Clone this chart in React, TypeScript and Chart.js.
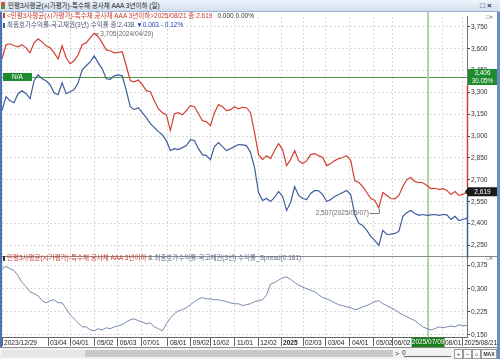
import React, { useEffect, useRef } from 'react';
import { Chart, registerables } from 'chart.js';
Chart.register(...registerables);

// ---- data (sampled every few trading days, 2023/12/29 .. 2025/08/21) ----
const RED = [
  3.531, 3.627, 3.634, 3.620, 3.613, 3.627, 3.606, 3.572, 3.640, 3.668,
  3.647, 3.620, 3.606, 3.572, 3.531, 3.620, 3.538, 3.497, 3.517, 3.558,
  3.627, 3.640, 3.675, 3.705, 3.682, 3.640, 3.592, 3.586, 3.572, 3.575,
  3.579, 3.483, 3.380, 3.373, 3.385, 3.353, 3.312, 3.305, 3.243, 3.188,
  3.161, 3.147, 3.038, 3.154, 3.161, 3.147, 3.175, 3.209, 3.202, 3.154,
  3.106, 3.099, 3.072, 3.161, 3.216, 3.202, 3.175, 3.182, 3.202, 3.188,
  3.198, 3.195, 3.161, 3.024, 2.873, 2.839, 2.866, 2.846, 2.901, 2.949,
  2.908, 2.798, 2.839, 2.901, 2.832, 2.812, 2.830, 2.873, 2.880, 2.866,
  2.853, 2.798, 2.812, 2.832, 2.846, 2.853, 2.866, 2.832, 2.695, 2.682,
  2.654, 2.613, 2.572, 2.558, 2.507, 2.613, 2.593, 2.572, 2.570, 2.593,
  2.654, 2.702, 2.716, 2.688, 2.682, 2.680, 2.661, 2.640, 2.642, 2.634,
  2.640, 2.627, 2.599, 2.620, 2.593, 2.600, 2.619,
];
const BLUE = [
  3.175, 3.271, 3.243, 3.229, 3.291, 3.312, 3.291, 3.257, 3.380, 3.421,
  3.394, 3.380, 3.353, 3.298, 3.284, 3.366, 3.291, 3.305, 3.319, 3.366,
  3.455, 3.483, 3.510, 3.551, 3.503, 3.462, 3.394, 3.390, 3.414, 3.421,
  3.414, 3.312, 3.202, 3.182, 3.195, 3.161, 3.127, 3.086, 3.058, 3.031,
  3.010, 2.969, 2.901, 2.914, 2.908, 2.921, 2.935, 2.976, 2.970, 2.914,
  2.873, 2.866, 2.839, 2.928, 2.955, 2.928, 2.901, 2.914, 2.928, 2.942,
  2.940, 2.935, 2.887, 2.784, 2.613, 2.558, 2.572, 2.551, 2.579, 2.620,
  2.586, 2.490, 2.545, 2.654, 2.593, 2.572, 2.565, 2.606, 2.627, 2.625,
  2.599, 2.551, 2.565, 2.586, 2.599, 2.613, 2.627, 2.599, 2.462, 2.401,
  2.387, 2.353, 2.312, 2.284, 2.250, 2.353, 2.325, 2.328, 2.332, 2.346,
  2.449, 2.476, 2.490, 2.469, 2.456, 2.462, 2.456, 2.460, 2.462, 2.456,
  2.462, 2.460, 2.428, 2.449, 2.421, 2.428, 2.438,
];
const SPREAD = [
  0.365, 0.372, 0.365, 0.359, 0.342, 0.320, 0.307, 0.290, 0.284, 0.277,
  0.261, 0.254, 0.261, 0.264, 0.254, 0.254, 0.235, 0.215, 0.202, 0.189,
  0.176, 0.176, 0.166, 0.163, 0.170, 0.166, 0.173, 0.170, 0.176, 0.179,
  0.183, 0.192, 0.199, 0.202, 0.196, 0.192, 0.186, 0.189, 0.176, 0.170,
  0.163, 0.186, 0.205, 0.218, 0.228, 0.232, 0.238, 0.248, 0.258, 0.267,
  0.271, 0.267, 0.267, 0.264, 0.264, 0.261, 0.258, 0.254, 0.251, 0.251,
  0.245, 0.248, 0.251, 0.258, 0.261, 0.264, 0.280, 0.315, 0.320, 0.328,
  0.335, 0.338, 0.330, 0.320, 0.312, 0.305, 0.300, 0.295, 0.290, 0.280,
  0.271, 0.267, 0.261, 0.254, 0.248, 0.245, 0.241, 0.238, 0.232, 0.235,
  0.241, 0.245, 0.251, 0.258, 0.261, 0.251, 0.245, 0.238, 0.232, 0.222,
  0.215, 0.209, 0.202, 0.196, 0.186, 0.176, 0.170, 0.166, 0.170, 0.176,
  0.173, 0.176, 0.179, 0.176, 0.183, 0.179, 0.181,
];
const MAIN_TICKS = [2.25, 2.4, 2.55, 2.7, 2.85, 3.0, 3.15, 3.3, 3.45, 3.6, 3.75];
const SPREAD_TICKS = [0.15, 0.225, 0.3, 0.375];
const X_TICK_POS = [0, 11.5, 17.0, 23.2, 28.9, 34.7, 41.4, 47.1, 52.1, 58.1, 63.9, 69.6, 75.1, 80.8, 86.8, 92.8, 97.3, 110.0, 114.8];
const X_TICK_LABELS = ['2023/12/29', '03/04', '04/01', '05/02', '06/03', '07/01', '08/01', '09/02', '10/02', '11/01', '12/02', '2025', '02/03', '03/04', '04/01', '05/02', '06/02', '08/01', '2025/08/21'];
const MARK_POS = 106.3;
const MARK_LABEL = '2025/07/09';
const REF_LEVEL = 3.406;
const REF_PCT = '30.05%';
const PEAK_DATE = '2024/04/29';
const LOW_DATE = '2025/05/07';
const MAIN_RANGE = [2.179, 3.818];
const SPREAD_RANGE = [0.143, 0.407];

const NARROW = '"Liberation Sans", "Noto Sans CJK KR", sans-serif';
const fmt = (v: number) => v.toFixed(3).replace('.', ',');

const overlay = {
  id: 'overlay',
  beforeDatasetsDraw(chart: any) {
    const { ctx, chartArea: ca, scales } = chart;
    const x = scales.x, y = scales.y;
    const gy = Math.round(y.getPixelForValue(REF_LEVEL)) + 0.5;
    ctx.save();
    ctx.strokeStyle = '#4e9b43';
    ctx.lineWidth = 1;
    ctx.beginPath(); ctx.moveTo(ca.left, gy); ctx.lineTo(ca.right, gy); ctx.stroke();
    const vx = x.getPixelForValue(MARK_POS);
    ctx.strokeStyle = '#b2d0aa';
    ctx.lineWidth = 2;
    ctx.beginPath(); ctx.moveTo(vx, 0); ctx.lineTo(vx, x.bottom); ctx.stroke();
    ctx.restore();
  },
  afterDraw(chart: any) {
    const { ctx, chartArea: ca, scales } = chart;
    const x = scales.x, y = scales.y, y2 = scales.y2;
    ctx.save();
    const sy = Math.round(y2.top) + 0.5;
    ctx.strokeStyle = '#8c8c8c'; ctx.lineWidth = 1;
    ctx.beginPath(); ctx.moveTo(0, sy); ctx.lineTo(chart.width, sy); ctx.stroke();

    const gy = y.getPixelForValue(REF_LEVEL);
    const last = RED[RED.length - 1];
    const cy = y.getPixelForValue(last);
    const ax = Math.round(y.left) + 0.5;
    ctx.lineWidth = 1.5;
    ctx.strokeStyle = '#d2402f';
    ctx.beginPath(); ctx.moveTo(ax, gy + 8); ctx.lineTo(ax, cy - 4.5); ctx.stroke();
    ctx.strokeStyle = '#3d5d9c';
    ctx.beginPath(); ctx.moveTo(ax, cy + 4.5); ctx.lineTo(ax, y.bottom + 2); ctx.stroke();

    let pi = 0, li = 0;
    RED.forEach((v, i) => { if (v > RED[pi]) pi = i; if (v < RED[li]) li = i; });
    const px = x.getPixelForValue(pi), py = y.getPixelForValue(RED[pi]);
    const lx = x.getPixelForValue(li), ly = y.getPixelForValue(RED[li]);
    ctx.strokeStyle = '#777'; ctx.lineWidth = 1;
    ctx.beginPath(); ctx.moveTo(px + 1, py + 0.5); ctx.lineTo(px + 5, py + 0.5); ctx.stroke();
    ctx.font = '6.5px ' + NARROW;
    ctx.fillStyle = '#6a6a6a';
    ctx.textBaseline = 'middle';
    ctx.textAlign = 'left';
    ctx.fillText(fmt(RED[pi]) + '(' + PEAK_DATE + ')', px + 6, py + 1);
    ctx.beginPath(); ctx.moveTo(lx + 0.5, ly + 1); ctx.lineTo(lx + 0.5, ly + 5.5); ctx.lineTo(lx - 9, ly + 5.5); ctx.stroke();
    ctx.textAlign = 'right';
    ctx.fillText(fmt(RED[li]) + '(' + LOW_DATE + ')', lx - 10, ly + 5.5);

    ctx.fillStyle = '#1e8c2e';
    ctx.fillRect(ca.left + 1, gy - 4, 29, 8);
    ctx.fillStyle = '#fff';
    ctx.textAlign = 'center';
    ctx.font = '6.5px ' + NARROW;
    ctx.fillText('N/A', ca.left + 15.5, gy + 0.5);
    ctx.fillStyle = '#1e8c2e';
    ctx.fillRect(y.left + 1, gy - 8, 29, 16);
    ctx.fillStyle = '#fff';
    ctx.font = '6.3px ' + NARROW;
    ctx.fillText(fmt(REF_LEVEL), y.left + 15.5, gy - 3.5);
    ctx.fillText(REF_PCT, y.left + 15.5, gy + 4);
    ctx.fillStyle = '#1b1b1b';
    ctx.beginPath();
    ctx.moveTo(y.left - 2, cy); ctx.lineTo(y.left + 1, cy - 4.5); ctx.lineTo(y.left + 30, cy - 4.5);
    ctx.lineTo(y.left + 30, cy + 4.5); ctx.lineTo(y.left + 1, cy + 4.5); ctx.closePath(); ctx.fill();
    ctx.fillStyle = '#fff';
    ctx.font = '6.5px ' + NARROW;
    ctx.fillText(fmt(last), y.left + 15.5, cy + 0.5);
    const vx = x.getPixelForValue(MARK_POS);
    ctx.fillStyle = '#1c7d1c';
    ctx.fillRect(vx - 16.5, x.top + 0.5, 33, 9.5);
    ctx.fillStyle = '#fff';
    ctx.font = '6.5px ' + NARROW;
    ctx.fillText(MARK_LABEL, vx, x.top + 5.5);
    ctx.restore();
  },
};

export default function App() {
  const ref = useRef<HTMLCanvasElement | null>(null);
  useEffect(() => {
    if (!ref.current) return;
    const tickFont = { family: NARROW, size: 6.6 };
    const yCommon = (w: number) => ({
      position: 'right' as const,
      stack: 'panels',
      stackWeight: w,
      grid: { color: '#d9d9d9', lineWidth: 1, tickLength: 3, tickColor: '#444' },
      border: { color: '#777', dash: [2, 2] },
      afterFit: (s: any) => { s.width = 33; },
    });
    const chart = new Chart(ref.current, {
      type: 'line',
      data: {
        datasets: [
          { data: RED.map((v, i) => ({ x: i, y: v })), borderColor: '#d2402f', borderWidth: 1.2, pointRadius: 0, yAxisID: 'y', xAxisID: 'x' },
          { data: BLUE.map((v, i) => ({ x: i, y: v })), borderColor: '#3d5d9c', borderWidth: 1.2, pointRadius: 0, yAxisID: 'y', xAxisID: 'x' },
          { data: SPREAD.map((v, i) => ({ x: i, y: v })), borderColor: '#7788ad', borderWidth: 1, pointRadius: 0, yAxisID: 'y2', xAxisID: 'x' },
        ],
      },
      options: {
        animation: false,
        responsive: false,
        events: [],
        layout: { padding: { left: 2, top: 2, right: 0, bottom: 0 } },
        plugins: { legend: { display: false }, tooltip: { enabled: false }, title: { display: false } },
        scales: {
          y: {
            ...yCommon(241),
            type: 'linear',
            min: MAIN_RANGE[0], max: MAIN_RANGE[1],
            afterBuildTicks: (s: any) => { s.ticks = MAIN_TICKS.map((v) => ({ value: v })); },
            ticks: { font: tickFont, color: '#333', padding: 1, autoSkip: false, callback: (v: any) => fmt(Number(v)) },
          },
          y2: {
            ...yCommon(82),
            type: 'linear',
            min: SPREAD_RANGE[0], max: SPREAD_RANGE[1],
            afterBuildTicks: (s: any) => { s.ticks = SPREAD_TICKS.map((v) => ({ value: v })); },
            ticks: { font: tickFont, color: '#333', padding: 1, autoSkip: false, callback: (v: any) => fmt(Number(v)) },
          },
          x: {
            type: 'linear',
            position: 'bottom',
            min: 0, max: RED.length - 1,
            afterBuildTicks: (s: any) => { s.ticks = X_TICK_POS.map((v) => ({ value: v })); },
            afterFit: (s: any) => { s.height = 10; s.paddingLeft = 0; s.paddingRight = 0; },
            grid: { color: '#d9d9d9', lineWidth: 1, tickLength: 9, tickColor: '#666' },
            border: { color: '#666', dash: [2, 2] },
            ticks: {
              autoSkip: false, maxRotation: 0, minRotation: 0, align: 'start', labelOffset: 2, padding: -7,
              color: '#222',
              font: (c: any) => ({ family: NARROW, size: 6.6, weight: X_TICK_LABELS[c.index] === '2025' ? 'bold' : 'normal' }),
              callback: (_v: any, i: number) => X_TICK_LABELS[i],
            },
          },
        },
      } as any,
      plugins: [overlay],
    });
    return () => chart.destroy();
  }, []);

  const txt: React.CSSProperties = { position: 'absolute', whiteSpace: 'nowrap', fontFamily: NARROW, fontSize: 6.5, height: 8, lineHeight: '8px' };
  const bar = (c: string): React.CSSProperties => ({ display: 'inline-block', width: 2, height: 5, background: c, marginRight: 2, verticalAlign: 'middle' });
  const btn: React.CSSProperties = { position: 'absolute', top: 1, height: 8, lineHeight: '8px', fontSize: 6, fontFamily: NARROW, border: '1px solid #999', background: '#fafafa', textAlign: 'center', color: '#333', boxSizing: 'content-box', overflow: 'hidden' };

  return (
    <div style={{ position: 'absolute', left: 0, top: 0, width: 500, height: 359, background: '#fff', overflow: 'hidden' }}>
      <div style={{ position: 'absolute', left: 0, top: 0, width: 500, height: 12, background: 'linear-gradient(#eef3fa,#d3dff0)', borderBottom: '1px solid #9bb1d3', boxSizing: 'border-box' }}>
        <div style={{ position: 'absolute', left: 1, top: 2, width: 4, height: 7, background: 'linear-gradient(#e24b3b,#3aa04a)' }} />
        <div style={{ ...txt, left: 8, top: 2, color: '#222' }}>민평3사평균(시가평가)-특수채 공사채 AAA 3년이하 (일)</div>
        <div style={{ ...txt, left: 480, top: 2, fontSize: 8, fontWeight: 'bold', color: '#1f2f55' }}>□ ×</div>
      </div>
      <canvas ref={ref} width={500} height={335} style={{ position: 'absolute', left: 0, top: 12, width: 500, height: 335 }} />
      <div style={{ ...txt, left: 3, top: 11.5, color: '#c8392b' }}>
        <span style={bar('#c8392b')} />&lt;민평3사평균(시가평가)-특수채 공사채 AAA 3년이하&gt;2025/08/21 종:2.619
        <span style={{ color: '#333', marginLeft: 5 }}>0.000 0.00%</span>
      </div>
      <div style={{ ...txt, left: 3, top: 21, color: '#4f5a72' }}>
        <span style={bar('#3d5d9c')} />최종호가수익률-국고채권(3년) 수익률 종:2.438 <span style={{ color: '#1f3fbf' }}>▼0.003</span> <span style={{ color: '#1f3fbf' }}>- 0.12%</span>
      </div>
      <div style={{ ...txt, left: 486, top: 12.5, fontSize: 6, color: '#666' }}>□×</div>
      <div style={{ ...txt, left: 3, top: 254, color: '#c8392b' }}>
        <span style={bar('#333')} />민평3사평균(시가평가)-특수채 공사채 AAA 3년이하 <span style={{ color: '#555' }}>&amp;</span> <span style={{ color: '#5d6b8c' }}>최종호가수익률-국고채권(3년) 수익률_Spread(0.181)</span>
      </div>
      <div style={{ ...txt, left: 486, top: 254, fontSize: 6, color: '#666' }}>□×</div>
      <div style={{ position: 'absolute', left: 0, top: 12, width: 2, height: 335, background: '#4a74b4' }} />
      <div style={{ position: 'absolute', left: 497, top: 12, width: 3, height: 347, background: '#6a8cc4' }} />
      <div style={{ position: 'absolute', left: 0, top: 347, width: 497, height: 12, background: '#f2f2f2', borderTop: '1px solid #888', boxSizing: 'border-box' }}>
        <div style={{ position: 'absolute', left: 2, top: 2, width: 391, height: 7, background: '#e6e6e6' }} />
        <div style={{ position: 'absolute', left: 85, top: 2, width: 308, height: 7, background: '#c8c8c8' }} />
        <div style={{ ...txt, left: 395, top: 1.5, fontSize: 7, color: '#333' }}>&gt;</div>
        <div style={{ ...txt, left: 402, top: 1, fontSize: 6.5, color: '#333' }}>0</div>
        <div style={{ position: 'absolute', left: 404, top: 8, width: 47, height: 1, background: '#666' }} />
        <div style={{ ...btn, left: 454, width: 7 }}>+</div>
        <div style={{ ...btn, left: 463, width: 7 }}>−</div>
        <div style={{ ...btn, left: 472, width: 7 }}>⌂</div>
        <div style={{ ...btn, left: 481, width: 14, fontSize: 5, fontWeight: 'bold' }}>MAX</div>
      </div>
    </div>
  );
}
